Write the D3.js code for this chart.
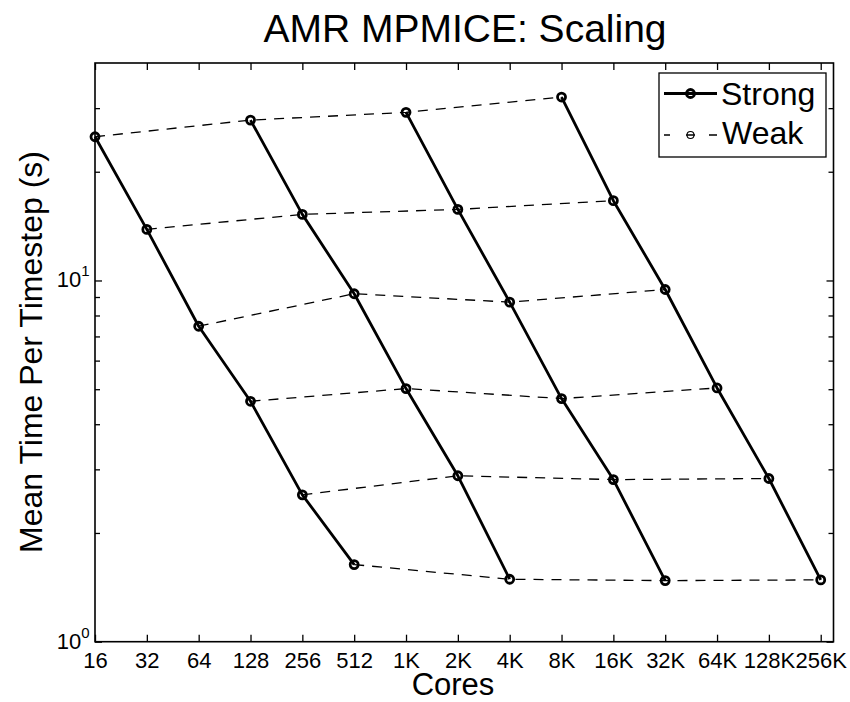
<!DOCTYPE html>
<html>
<head>
<meta charset="utf-8">
<script src="https://cdn.jsdelivr.net/npm/d3@7"></script>
<style>
  html, body { margin: 0; padding: 0; background: #fff; }
  svg { display: block; font-family: "Liberation Sans", Arial, Helvetica, sans-serif; }
</style>
</head>
<body>
<div id="chart"></div>
<script>
// Core counts on the x axis and their labels
const coreTicks = [16, 32, 64, 128, 256, 512, 1024, 2048, 4096, 8192, 16384, 32768, 65536, 131072, 262144];
const coreTickLabels = ["16", "32", "64", "128", "256", "512", "1K", "2K", "4K", "8K", "16K", "32K", "64K", "128K", "256K"];

// Strong scaling runs: one problem size per run, six core counts each
const strongCores = [
  [16, 32, 64, 128, 256, 512],
  [128, 256, 512, 1024, 2048, 4096],
  [1024, 2048, 4096, 8192, 16384, 32768],
  [8192, 16384, 32768, 65536, 131072, 262144]
];
// Mean time per timestep (s) for each strong scaling run
const strongTimes = [
  [25.0, 13.85, 7.47, 4.63, 2.55, 1.635],
  [27.8, 15.24, 9.19, 5.02, 2.88, 1.489],
  [29.2, 15.73, 8.71, 4.71, 2.81, 1.476],
  [32.2, 16.63, 9.44, 5.04, 2.83, 1.483]
];

// Y axis ticks
const yMajorTicks = [1, 10];
const yMajorExp = ["0", "1"];
const yMinorTicks = [2, 3, 4, 5, 6, 7, 8, 9, 20, 30];

const seriesNames = ["Strong", "Weak"];

const W = 850, H = 702;
const axL = 95, axR = 833.5, axT = 63, axB = 641.7;

const svg = d3.select("#chart").append("svg")
  .attr("width", W).attr("height", H);
svg.append("rect").attr("width", W).attr("height", H).attr("fill", "#fff");

const x = d3.scaleLog().base(2).domain([16, 311000]).range([axL, axR]);
const y = d3.scaleLog().domain([1, 40]).range([axB, axT]);

// Weak scaling runs: the i-th point of every strong run
const weakRuns = d3.range(strongCores[0].length).map(i =>
  strongCores.map((c, k) => ({ c: c[i], t: strongTimes[k][i] })));
const strongRuns = strongCores.map((c, k) => c.map((v, i) => ({ c: v, t: strongTimes[k][i] })));

const line = d3.line().x(d => x(d.c)).y(d => y(d.t));

const plot = svg.append("g");

// dashed weak scaling lines
plot.selectAll("path.weak").data(weakRuns).enter().append("path")
  .attr("class", "weak")
  .attr("d", line)
  .attr("fill", "none").attr("stroke", "#000")
  .attr("stroke-width", 1.3)
  .attr("stroke-dasharray", "10,8");

// solid strong scaling lines
plot.selectAll("path.strong").data(strongRuns).enter().append("path")
  .attr("class", "strong")
  .attr("d", line)
  .attr("fill", "none").attr("stroke", "#000")
  .attr("stroke-width", 2.8)
  .attr("stroke-linejoin", "round");

// open circle markers
plot.selectAll("circle.strong").data(strongRuns.flat()).enter().append("circle")
  .attr("class", "strong")
  .attr("cx", d => x(d.c)).attr("cy", d => y(d.t)).attr("r", 4)
  .attr("fill", "none").attr("stroke", "#000").attr("stroke-width", 2.8);

// axes: bottom with labels, top/left/right mirrored ticks pointing inward
const bottomAxis = d3.axisBottom(x).tickValues(coreTicks)
  .tickFormat((d, i) => coreTickLabels[i]).tickSizeInner(-7).tickSizeOuter(0).tickPadding(11);
const gB = svg.append("g").attr("transform", `translate(0,${axB})`).call(bottomAxis);
gB.selectAll("text").attr("font-size", 22).attr("fill", "#000")
  .attr("font-family", "'Liberation Sans', Arial, sans-serif");

const topAxis = d3.axisTop(x).tickValues(coreTicks).tickFormat("")
  .tickSizeInner(-7).tickSizeOuter(0);
svg.append("g").attr("transform", `translate(0,${axT})`).call(topAxis);

const leftMajor = d3.axisLeft(y).tickValues(yMajorTicks).tickFormat("").tickSizeInner(-7).tickSizeOuter(0);
const leftMinor = d3.axisLeft(y).tickValues(yMinorTicks).tickFormat("").tickSizeInner(-5).tickSizeOuter(0);
const rightMajor = d3.axisRight(y).tickValues(yMajorTicks).tickFormat("").tickSizeInner(-7).tickSizeOuter(0);
const rightMinor = d3.axisRight(y).tickValues(yMinorTicks).tickFormat("").tickSizeInner(-5).tickSizeOuter(0);
svg.append("g").attr("transform", `translate(${axL},0)`).call(leftMajor);
svg.append("g").attr("transform", `translate(${axL},0)`).call(leftMinor);
svg.append("g").attr("transform", `translate(${axR},0)`).call(rightMajor);
svg.append("g").attr("transform", `translate(${axR},0)`).call(rightMinor);

svg.selectAll(".domain").remove();
svg.selectAll(".tick line").attr("stroke", "#000").attr("stroke-width", 1.3);

// power-of-ten labels on the y axis
const yl = svg.append("g").selectAll("text").data(yMajorTicks).enter().append("text")
  .attr("x", 89.5).attr("y", d => y(d) + 7)
  .attr("text-anchor", "end").attr("font-size", 22).attr("fill", "#000");
yl.append("tspan").text("10");
yl.append("tspan").attr("font-size", 15).attr("dy", -11).text((d, i) => yMajorExp[i]);

// axes box
svg.append("rect")
  .attr("x", axL).attr("y", axT).attr("width", axR - axL).attr("height", axB - axT)
  .attr("fill", "none").attr("stroke", "#000").attr("stroke-width", 1.6);

// title and axis labels
svg.append("text").attr("x", 465).attr("y", 42).attr("text-anchor", "middle")
  .attr("font-size", 39).attr("fill", "#000").text("AMR MPMICE: Scaling");
svg.append("text").attr("x", 453).attr("y", 695).attr("text-anchor", "middle")
  .attr("font-size", 31).attr("fill", "#000").text("Cores");
svg.append("text").attr("transform", "translate(42,352) rotate(-90)")
  .attr("text-anchor", "middle").attr("font-size", 32).attr("fill", "#000")
  .text("Mean Time Per Timestep (s)");

// legend
const lg = svg.append("g");
lg.append("rect").attr("x", 659).attr("y", 73).attr("width", 167).attr("height", 84)
  .attr("fill", "#fff").attr("stroke", "#000").attr("stroke-width", 1.3);
lg.append("line").attr("x1", 664).attr("x2", 717).attr("y1", 93.5).attr("y2", 93.5)
  .attr("stroke", "#000").attr("stroke-width", 2.8);
lg.append("circle").attr("cx", 690.5).attr("cy", 93.5).attr("r", 4)
  .attr("fill", "none").attr("stroke", "#000").attr("stroke-width", 2.8);
lg.append("text").attr("x", 721).attr("y", 105).attr("font-size", 32).attr("fill", "#000").text(seriesNames[0]);
lg.append("line").attr("x1", 664).attr("x2", 717).attr("y1", 135).attr("y2", 135)
  .attr("stroke", "#000").attr("stroke-width", 1.3).attr("stroke-dasharray", "6,16,9,14,8");
lg.append("circle").attr("cx", 690.5).attr("cy", 135).attr("r", 3.5)
  .attr("fill", "none").attr("stroke", "#000").attr("stroke-width", 1.1);
lg.append("text").attr("x", 722).attr("y", 143.5).attr("font-size", 32).attr("fill", "#000").text(seriesNames[1]);
</script>
</body>
</html>
